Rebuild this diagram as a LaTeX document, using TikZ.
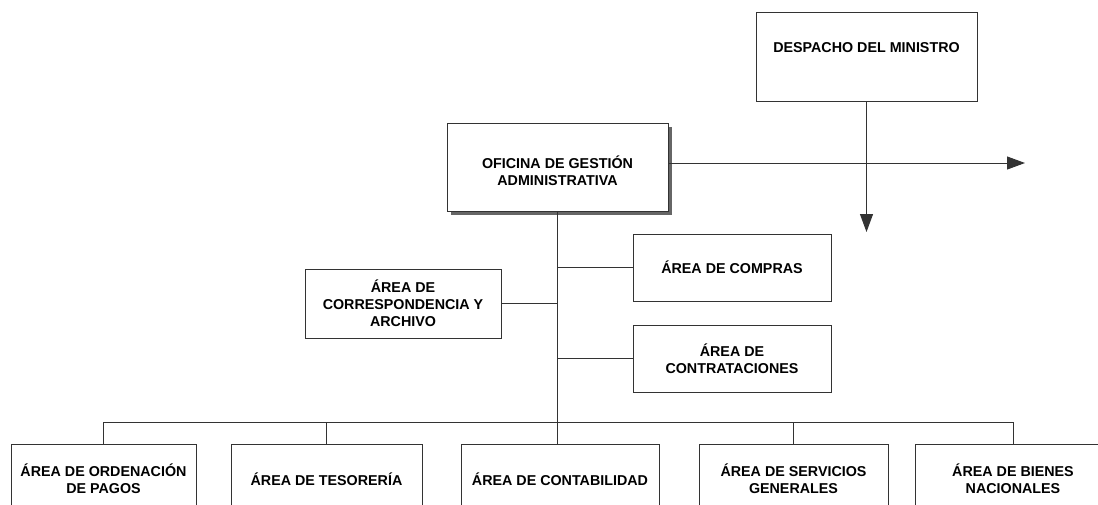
\documentclass[tikz,border=0pt]{standalone}
\usepackage{fontspec}
\setmainfont{Liberation Sans}
\usetikzlibrary{arrows.meta,shadows}
\begin{document}
\begin{tikzpicture}[x=1pt,y=-1pt,
	box/.style={draw=black!80,line width=1pt,fill=white,align=center,inner sep=0pt,
		font=\fontsize{14.3}{17}\selectfont\bfseries},
	link/.style={draw=black!80,line width=1pt},
	tip/.style={-{Triangle[length=18pt,width=13pt]}}]
	\clip (0,0) rectangle (1098,504);
	% cabecera
	\node[box,minimum width=221,minimum height=89] (despacho) at (866.5,56.5) {DESPACHO DEL MINISTRO\\~};
	\node[box,minimum width=221,minimum height=88,
		drop shadow={shadow xshift=4pt,shadow yshift=-4pt,fill=black!60,opacity=1}] (oficina) at (557.5,167)
		{\raisebox{-6pt}[\height][\depth]{\begin{tabular}{@{}c@{}}OFICINA DE GESTIÓN\\ADMINISTRATIVA\end{tabular}}};
	% areas de apoyo
	\node[box,minimum width=198,minimum height=67] (compras) at (732,267.5) {ÁREA DE COMPRAS};
	\node[box,minimum width=198,minimum height=67] (contrataciones) at (732,358.5) {ÁREA DE\\CONTRATACIONES};
	\node[box,minimum width=196,minimum height=69] (correspondencia) at (403,303.5) {ÁREA DE\\CORRESPONDENCIA Y\\ARCHIVO};
	% areas de linea
	\node[box,minimum width=185,minimum height=70] (ordenacion) at (103.5,479) {ÁREA DE ORDENACIÓN\\DE PAGOS};
	\node[box,minimum width=191,minimum height=70] (tesoreria) at (326.5,479) {ÁREA DE TESORERÍA};
	\node[box,minimum width=198,minimum height=70] (contabilidad) at (560,479) {ÁREA DE CONTABILIDAD};
	\node[box,minimum width=189,minimum height=70] (servicios) at (793.5,479) {ÁREA DE SERVICIOS\\GENERALES};
	\node[box,minimum width=196,minimum height=70] (bienes) at (1013,479) {ÁREA DE BIENES\\NACIONALES};
	% conexiones
	\coordinate (salida) at (1025,163);
	\coordinate (bajada) at (866.5,232);
	\coordinate (bus) at (0,422);
	\draw[link,tip] (oficina.east |- salida) -- (salida);
	\draw[link,tip] (despacho.south) -- (bajada);
	\draw[link] (oficina.south) -- (oficina.south |- contabilidad.north);
	\draw[link] (oficina.south |- compras.west) -- (compras.west);
	\draw[link] (oficina.south |- contrataciones.west) -- (contrataciones.west);
	\draw[link] (correspondencia.east) -- (correspondencia.east -| oficina.south);
	\draw[link] (ordenacion.north) |- (bus -| bienes.north) -- (bienes.north);
	\draw[link] (tesoreria.north) -- (tesoreria.north |- bus);
	\draw[link] (servicios.north) -- (servicios.north |- bus);
\end{tikzpicture}
\end{document}
